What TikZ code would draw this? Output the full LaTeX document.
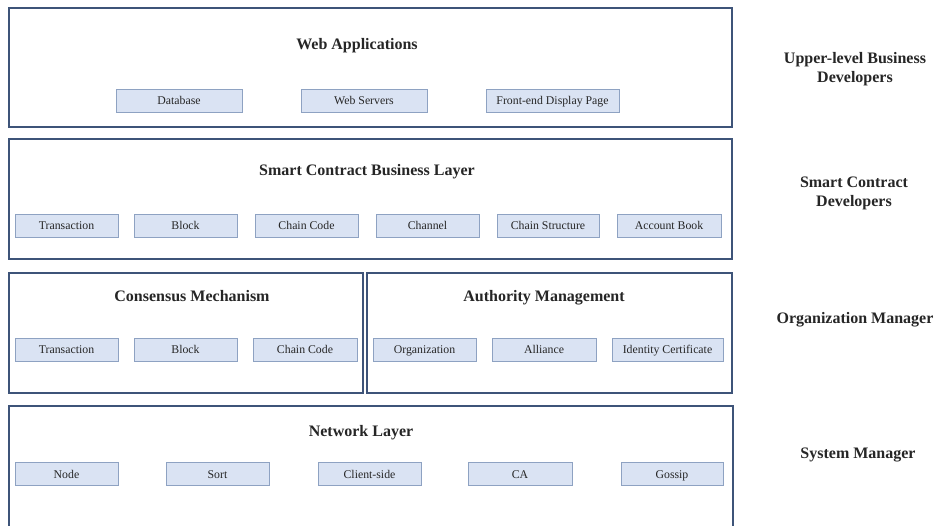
\documentclass[tikz,border=0pt]{standalone}
\usepackage{fontspec}
\setmainfont{Liberation Serif}
\definecolor{outerc}{HTML}{3E5479}
\definecolor{boxfill}{HTML}{DAE3F3}
\definecolor{boxdraw}{HTML}{8EA2C2}
\definecolor{txt}{HTML}{262626}
\begin{document}
\begin{tikzpicture}[x=1pt,y=-1pt,
  layer/.style={draw=outerc,line width=1.8pt,fill=white,inner sep=0pt},
  item/.style={draw=boxdraw,line width=0.8pt,fill=boxfill,inner sep=0pt,minimum height=23pt,text=txt,
    text height=9.6pt,text depth=1.2pt,font=\fontsize{11.8}{13}\selectfont},
  ttl/.style={font=\bfseries\fontsize{16}{18}\selectfont,text=txt,text height=11pt,text depth=0pt},
  role/.style={font=\bfseries\fontsize{16}{19}\selectfont,text=txt,align=center},
  role1/.style={font=\bfseries\fontsize{16}{19}\selectfont,text=txt,text height=11pt,text depth=0pt}]
\useasboundingbox (0,0) rectangle (938,526);
\fill[white] (0,0) rectangle (938,526);
% outer layers
\node[layer,minimum width=723pt,minimum height=119pt] (web) at (370.5,67.5) {};
\node[layer,minimum width=723pt,minimum height=120pt] (sc) at (370.5,199) {};
\node[layer,minimum width=354pt,minimum height=120pt] (cons) at (186,333) {};
\node[layer,minimum width=365pt,minimum height=120pt] (auth) at (549.5,333) {};
\node[layer,minimum width=724pt,minimum height=122pt] (net) at (371,467) {};
% titles
\node[ttl] (tweb) at (357,44) {Web Applications};
\node[ttl] (tsc) at (367,170.5) {Smart Contract Business Layer};
\node[ttl] (tcons) at (192,296) {Consensus Mechanism};
\node[ttl] (tauth) at (544,296) {Authority Management};
\node[ttl] (tnet) at (361,431) {Network Layer};
% web items
\node[item,minimum width=126pt] (db) at (179,100.5) {Database};
\node[item,minimum width=126pt] (ws) at (364,100.5) {Web Servers};
\node[item,minimum width=133pt] (fe) at (552.5,100.5) {Front-end Display Page};
% smart contract items
\node[item,minimum width=103pt] (s1) at (66.5,225.5) {Transaction};
\node[item,minimum width=103pt] (s2) at (185.5,225.5) {Block};
\node[item,minimum width=103pt] (s3) at (306.5,225.5) {Chain Code};
\node[item,minimum width=103pt] (s4) at (427.5,225.5) {Channel};
\node[item,minimum width=102pt] (s5) at (548,225.5) {Chain Structure};
\node[item,minimum width=104pt] (s6) at (669,225.5) {Account Book};
% consensus items
\node[item,minimum width=103pt] (c1) at (66.5,349.5) {Transaction};
\node[item,minimum width=103pt] (c2) at (185.5,349.5) {Block};
\node[item,minimum width=104pt] (c3) at (305,349.5) {Chain Code};
% authority items
\node[item,minimum width=103pt] (a1) at (424.5,349.5) {Organization};
\node[item,minimum width=104pt] (a2) at (544,349.5) {Alliance};
\node[item,minimum width=111pt] (a3) at (667.5,349.5) {Identity Certificate};
% network items
\node[item,minimum width=103pt] (n1) at (66.5,474) {Node};
\node[item,minimum width=103pt] (n2) at (217.5,474) {Sort};
\node[item,minimum width=103pt] (n3) at (369.5,474) {Client-side};
\node[item,minimum width=104pt] (n4) at (520,474) {CA};
\node[item,minimum width=102pt] (n5) at (672,474) {Gossip};
% roles
\node[role] (r1) at (855,69.5) {Upper-level Business\\Developers};
\node[role] (r2) at (854,193.5) {Smart Contract\\Developers};
\node[role1] (r3) at (855,318) {Organization Manager};
\node[role1] (r4) at (858,453) {System Manager};
\end{tikzpicture}
\end{document}
